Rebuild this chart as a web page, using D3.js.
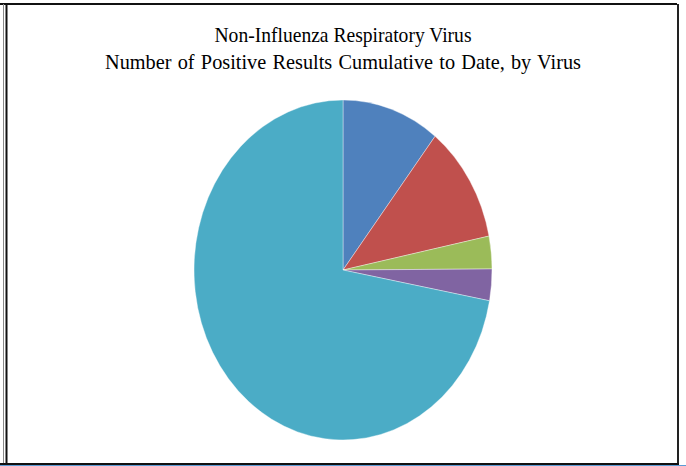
<!DOCTYPE html>
<html><head><meta charset="utf-8">
<script src="https://cdn.jsdelivr.net/npm/d3@7"></script>
<style>html,body{margin:0;padding:0;background:#fff;overflow:hidden}</style>
</head><body>
<script>
const categories = ["Adenovirus", "Human Metapneumovirus", "Parainfluenza", "Rhinovirus/Enterovirus", "RSV"];
const values = [106, 112, 31, 30, 721];
const colors = ["#4F81BD", "#C0504D", "#9BBB59", "#8064A2", "#4BACC6"];
const titleLines = ["Non-Influenza Respiratory Virus", "Number of Positive Results Cumulative to Date, by Virus"];

const W = 686, H = 466;
const svg = d3.select("body").append("svg").attr("width", W).attr("height", H);

// frame
svg.append("line").attr("x1",0).attr("x2",677).attr("y1",4).attr("y2",4).attr("stroke","#111").attr("stroke-width",2);
svg.append("line").attr("x1",3.5).attr("x2",3.5).attr("y1",4).attr("y2",464).attr("stroke","#888").attr("stroke-width",1);
svg.append("line").attr("x1",6.5).attr("x2",6.5).attr("y1",4).attr("y2",465).attr("stroke","#111").attr("stroke-width",2);
svg.append("line").attr("x1",678).attr("x2",678).attr("y1",4).attr("y2",465).attr("stroke","#222").attr("stroke-width",2);
svg.append("line").attr("x1",0).attr("x2",679).attr("y1",464).attr("y2",464).attr("stroke","#111").attr("stroke-width",2);
svg.append("line").attr("x1",0).attr("x2",686).attr("y1",465.5).attr("y2",465.5).attr("stroke","#5b9bd5").attr("stroke-width",1);

// title
const widths = [257, 476];
const spacing = [0, 1.2];
titleLines.forEach((s,i)=>{
  svg.append("text").attr("text-anchor","middle")
    .attr("font-family","'Liberation Serif','Times New Roman',serif")
    .attr("font-size",21).attr("fill","#000")
    .attr("x",343).attr("y",42 + i*27)
    .attr("word-spacing", spacing[i])
    .attr("textLength", widths[i]).attr("lengthAdjust","spacingAndGlyphs")
    .text(s);
});

// pie (elliptical)
const cx = 343, cy = 270, rx = 149, ry = 170;
const pie = d3.pie().value(d=>d).sort(null);
const arc = d3.arc().innerRadius(0).outerRadius(ry);
const g = svg.append("g").attr("transform", `translate(${cx},${cy}) scale(${rx/ry},1)`);
g.selectAll("path").data(pie(values)).join("path")
  .attr("d", arc)
  .attr("fill", (d,i)=>colors[i])
  .attr("stroke", "rgba(255,255,255,0.5)")
  .attr("stroke-width", 0.8)
  .append("title").text((d,i)=>categories[i] + ": " + values[i]);
</script>
</body></html>
